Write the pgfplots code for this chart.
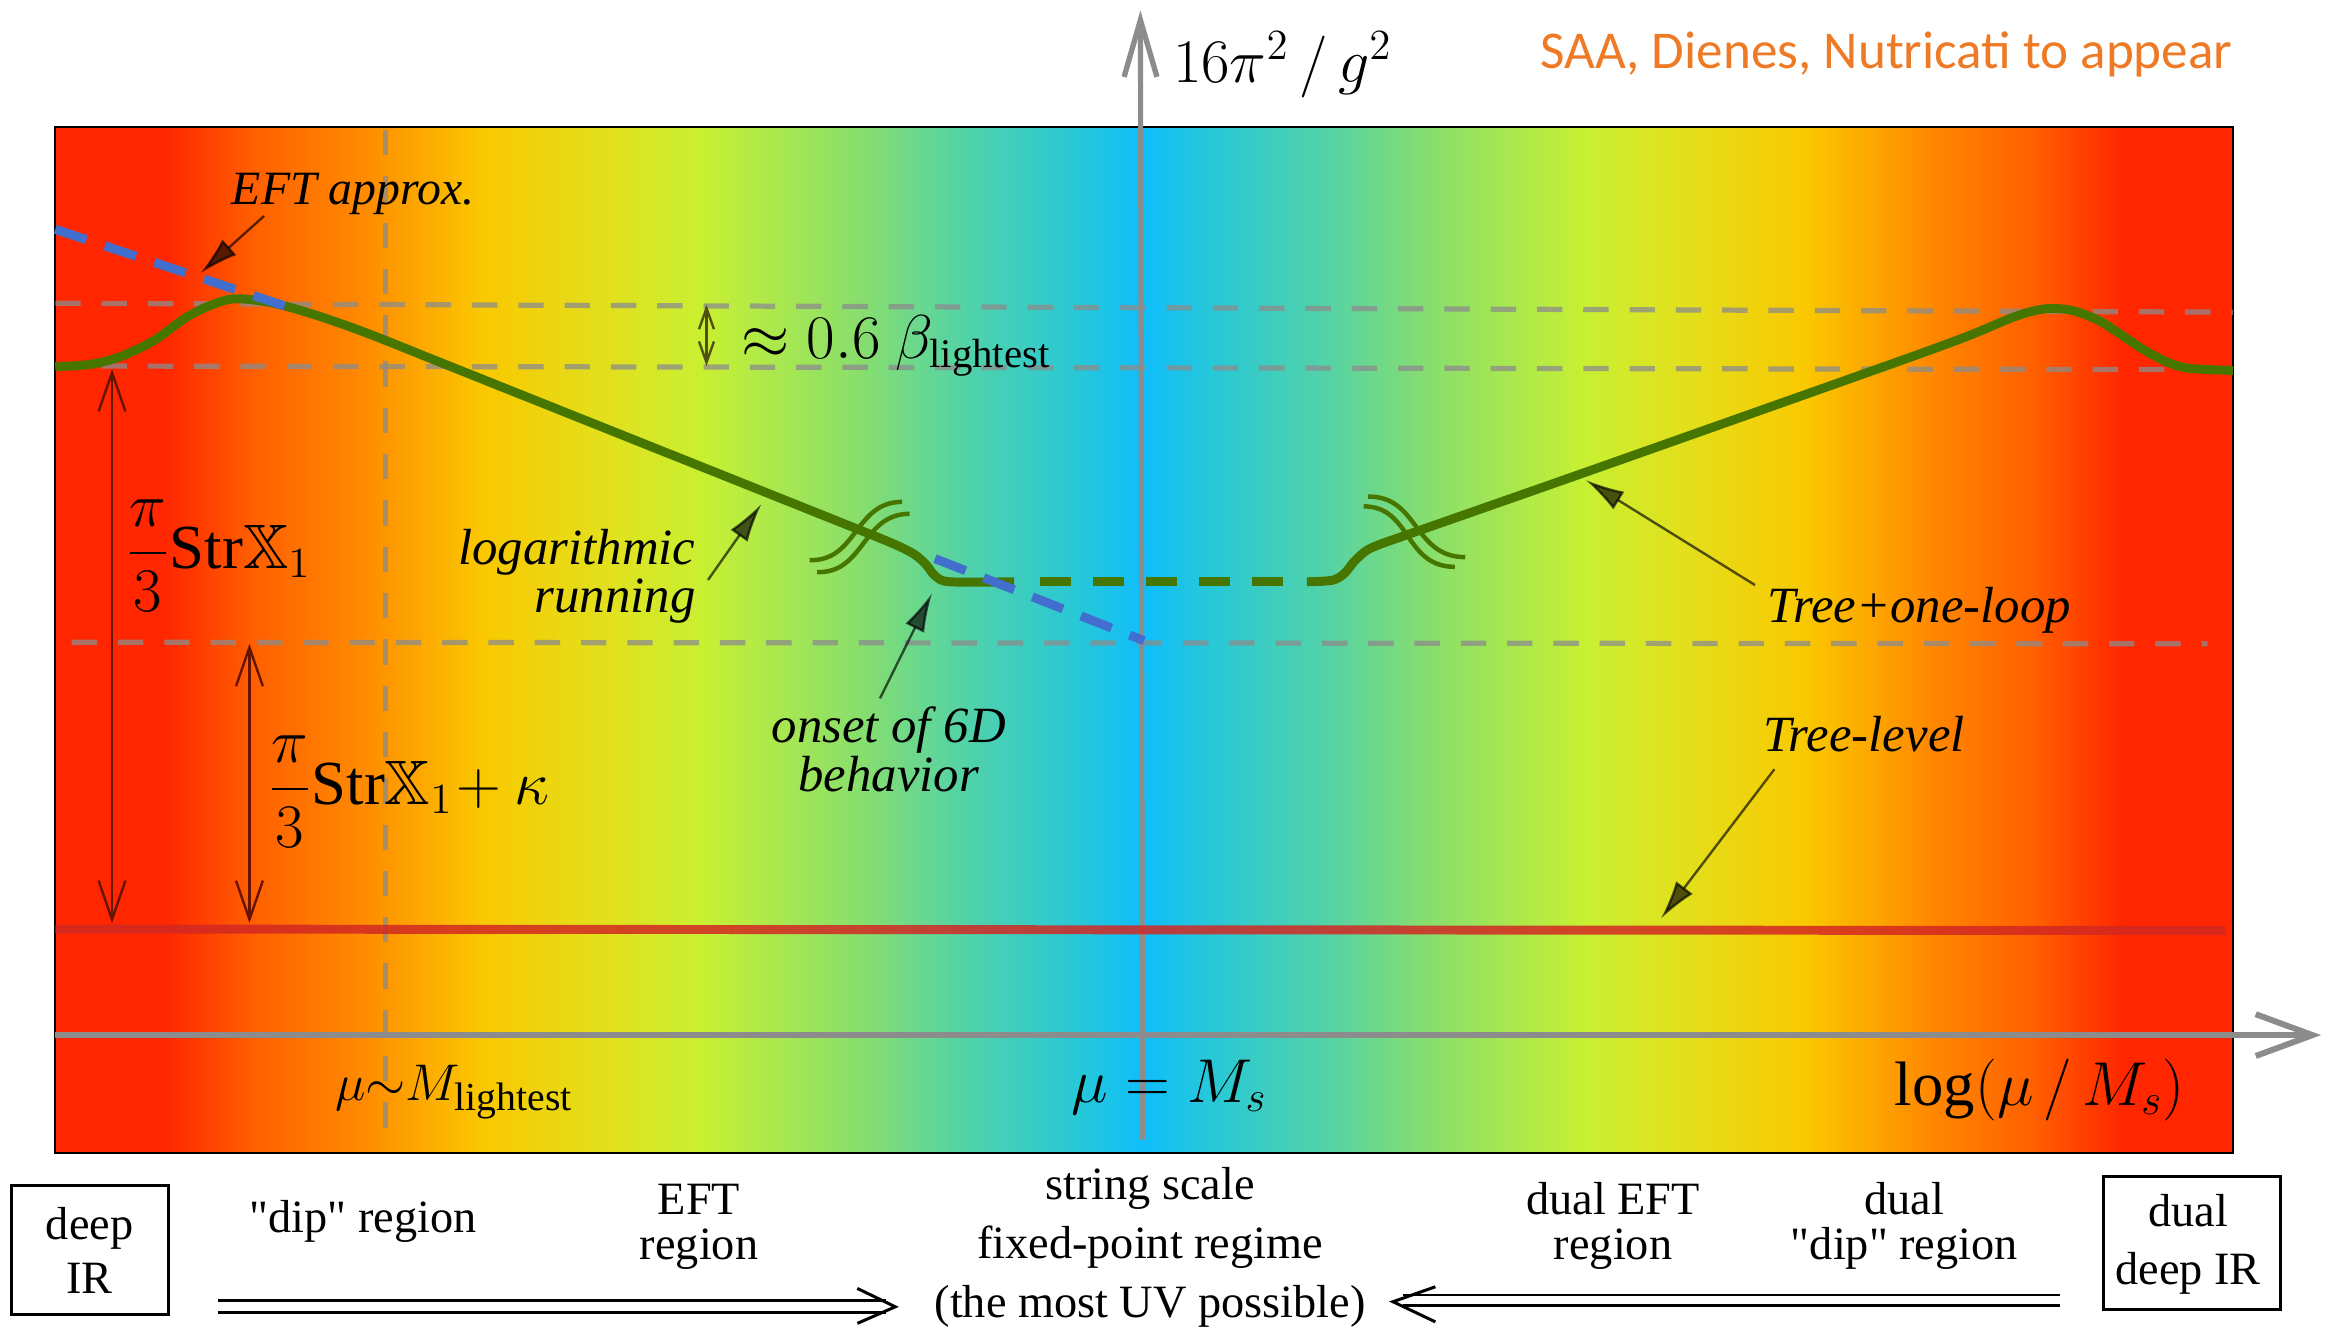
\documentclass[border=0pt]{standalone}
\usepackage{amssymb}
\usepackage{pgfplots}
\pgfplotsset{compat=1.18}
\usepackage{fontspec}
\setmainfont{Liberation Serif}
\newfontfamily\qfont[Ligatures=TeXOff]{Liberation Serif}
\newfontfamily\carlito{Carlito}
\usetikzlibrary{arrows.meta}

\definecolor{cR}{RGB}{255,38,0}
\definecolor{cA}{RGB}{255,95,0}
\definecolor{cB}{RGB}{255,138,0}
\definecolor{cC}{RGB}{250,200,0}
\definecolor{cD}{RGB}{225,225,30}
\definecolor{cE}{RGB}{200,240,50}
\definecolor{cF}{RGB}{135,222,110}
\definecolor{cG}{RGB}{80,210,170}
\definecolor{cH}{RGB}{40,200,215}
\definecolor{cI}{RGB}{15,190,250}
\definecolor{curvegreen}{RGB}{70,118,0}
\definecolor{eftblue}{RGB}{66,110,205}
\definecolor{treered}{RGB}{210,40,35}
\definecolor{axgray}{RGB}{140,140,140}
\definecolor{dashgray}{RGB}{140,140,140}
\definecolor{arrbrown}{RGB}{100,20,0}
\definecolor{arrolive}{RGB}{80,80,20}
\definecolor{refor}{RGB}{238,122,38}

\pgfdeclarehorizontalshading{rainbow}{100bp}{color(0bp)=(cR); color(27.5bp)=(cR); color(29.56bp)=(cA); color(32.03bp)=(cB); color(34.81bp)=(cC); color(37.76bp)=(cD); color(39.88bp)=(cE); color(43.52bp)=(cF); color(45.99bp)=(cG); color(48.42bp)=(cH); color(50bp)=(cI); color(51.58bp)=(cH); color(54.01bp)=(cG); color(56.48bp)=(cF); color(60.12bp)=(cE); color(62.24bp)=(cD); color(65.19bp)=(cC); color(67.97bp)=(cB); color(70.44bp)=(cA); color(72.5bp)=(cR); color(100bp)=(cR)}

\newcommand{\annf}{\fontsize{17}{14.2}\selectfont\itshape}
\newcommand{\btm}{\fontsize{15.5}{15}\selectfont}

\tikzset{
  gdash/.style={color=dashgray, opacity=0.75, line width=1.75pt, dash pattern=on 8.5pt off 7pt},
  annarrow/.style={black, opacity=0.65, line width=0.8pt, -{Latex[length=13pt,width=7pt]}},
  every node/.append style={inner sep=0pt},
}

\begin{document}
\begin{tikzpicture}
\begin{axis}[x=0.5pt, y=0.5pt, xmin=0, xmax=1568, ymin=0, ymax=890,
  y dir=reverse, hide axis, clip=false]
\path (axis cs:0,0) rectangle (axis cs:1568,890);

% background gradient
\addplot[shade, shading=rainbow, draw=black, line width=0.8pt] coordinates {(37,85) (1495,85) (1495,772) (37,772)} -- cycle;

% grey dashed guides
\addplot[no markers, gdash] coordinates {(37,203) (1495,209)};
\addplot[no markers, gdash] coordinates {(37,245) (1495,247.5)};
\addplot[no markers, gdash] coordinates {(48,430) (1478,431)};
\addplot[no markers, gdash] coordinates {(258,87) (258,765)};

% axes
\draw[axgray, line width=1.8pt, -{Straight Barb[length=19pt,width=14pt,line width=2pt]}] (axis cs:37,693) -- (axis cs:1554,693);
\draw[axgray, line width=1.7pt, -{Straight Barb[length=19pt,width=11pt,line width=1.8pt]}] (axis cs:765,763) -- (axis cs:763.5,7);

% tree level
\addplot[no markers, color=treered, opacity=0.85, line width=3pt] coordinates {(37,622) (1490,623)};

% tree + one loop
\addplot[no markers, smooth, tension=0.5, color=curvegreen, line width=3pt] coordinates {
(37,245.5) (60,244) (80,239) (103,228) (128,210.5) (153,200.5) (175,201.5) (195,206) (220,213.8) (250,224.7) (307,247.5) (461,309) (571,353) (598,364) (612,371) (620,378) (626,385.5) (636,389.5) (679,389.5)};
\addplot[no markers, color=curvegreen, line width=3pt, dash pattern=on 10.5pt off 7.25pt] coordinates {(696,389.5) (860,389.5)};
\addplot[no markers, smooth, tension=0.5, color=curvegreen, line width=3pt] coordinates {
(875,389.5) (892,388.5) (900,384) (907,375.5) (915,368.5) (925,364) (945,357) (1062,316) (1226,258) (1290,235.2) (1320,224) (1345,213.5) (1360,208.5) (1373,206.5) (1388,208) (1405,214.5) (1420,224) (1435,234) (1450,242) (1465,246.5) (1495,248)};

% EFT approximations
\addplot[no markers, color=eftblue, line width=3pt, dash pattern=on 11pt off 6.5pt] coordinates {(37,153.5) (200,208)};
\addplot[no markers, color=eftblue, line width=3pt, dash pattern=on 11pt off 6.5pt] coordinates {(626,374) (766,429)};

% break symbols
\draw[curvegreen, line width=1.5pt] (axis cs:542,375) .. controls (axis cs:574,376) and (axis cs:572,336) .. (axis cs:604,336);
\draw[curvegreen, line width=1.5pt] (axis cs:547,383) .. controls (axis cs:579,384) and (axis cs:577,344) .. (axis cs:609,344);
\draw[curvegreen, line width=1.5pt] (axis cs:916,332.5) .. controls (axis cs:950,332) and (axis cs:946,373) .. (axis cs:981,373);
\draw[curvegreen, line width=1.5pt] (axis cs:913,339) .. controls (axis cs:945,339) and (axis cs:940,379.5) .. (axis cs:974,379.5);

% double arrows
\draw[arrbrown, line width=0.8pt, {Straight Barb[length=13pt,width=9pt]}-{Straight Barb[length=13pt,width=9pt]}] (axis cs:75,247) -- (axis cs:75,618);
\draw[arrbrown, line width=0.8pt, {Straight Barb[length=13pt,width=9pt]}-{Straight Barb[length=13pt,width=9pt]}] (axis cs:167,431) -- (axis cs:167,618);
\draw[arrolive, line width=0.8pt, {Straight Barb[length=7pt,width=5pt]}-{Straight Barb[length=7pt,width=5pt]}] (axis cs:473,204) -- (axis cs:473,245);

% annotation arrows
\draw[annarrow] (axis cs:176.8,144.6) -- (axis cs:134.2,182.9);
\draw[annarrow] (axis cs:474,388.3) -- (axis cs:509.8,337.4);
\draw[annarrow] (axis cs:589.2,467.5) -- (axis cs:624,397.2);
\draw[annarrow] (axis cs:1175,391.7) -- (axis cs:1061.7,321.4);
\draw[annarrow] (axis cs:1188,515) -- (axis cs:1112,615);

% labels in the panel
\node[anchor=base] at (axis cs:236.5,137) {\fontsize{16}{16}\selectfont\itshape EFT approx.};
\node[anchor=base east, align=right, font=\annf] at (axis cs:466,410) {logarithmic\\running};
\node[anchor=base, align=center, font=\fontsize{17}{15}\selectfont\itshape] at (axis cs:595,530) {onset of 6D\\behavior};
\node[anchor=base] at (axis cs:1285,417) {\annf Tree+one-loop};
\node[anchor=base] at (axis cs:1248,503) {\annf Tree-level};
\node[anchor=base west] at (axis cs:496,240) {\fontsize{19.5}{19.5}\selectfont $\approx 0.6\ \beta_{\mathrm{lightest}}$};
\node[anchor=west] at (axis cs:84,372) {\fontsize{21}{21}\selectfont $\displaystyle\frac{\pi}{3}\mathrm{Str}\mathbb{X}_1$};
\node[anchor=west] at (axis cs:179,530) {\fontsize{21}{21}\selectfont $\displaystyle\frac{\pi}{3}\mathrm{Str}\mathbb{X}_1\!+\kappa$};
\node[anchor=base west] at (axis cs:224,737) {\fontsize{19}{19}\selectfont $\mu{\sim}M_{\mathrm{lightest}}$};
\node[anchor=base west] at (axis cs:717,738) {\fontsize{21}{21}\selectfont $\mu = M_s$};
\node[anchor=base east] at (axis cs:1463,740) {\fontsize{21}{21}\selectfont $\log(\mu\,/\,M_s)$};

% top labels
\node[anchor=base west] at (axis cs:785,55) {\fontsize{21}{21}\selectfont $16\pi^2\,/\,g^2$};
\node[anchor=base east, text=refor] at (axis cs:1495,46) {\fontsize{17.8}{17.8}\selectfont\carlito SAA, Dienes, Nutricati to appear};

% bottom region labels
\node[draw, line width=1pt, minimum width=52.5pt, minimum height=43pt] at (axis cs:60.2,837) {};
\node[anchor=base, align=center, font=\fontsize{15.5}{18}\selectfont] at (axis cs:60,866) {deep\\IR};
\node[anchor=base] at (axis cs:243,825) {\btm\qfont "dip" region};
\node[anchor=base, align=center, font=\btm] at (axis cs:468,843) {EFT\\region};
\node[anchor=base, align=center, font=\fontsize{15.5}{19.75}\selectfont] at (axis cs:770,882) {string scale\\fixed-point regime\\(the most UV possible)};
\node[anchor=base, align=center, font=\btm] at (axis cs:1080,843) {dual EFT\\region};
\node[anchor=base, align=center, font=\btm\qfont] at (axis cs:1275,843) {dual\\"dip" region};
\node[draw, line width=1pt, minimum width=59pt, minimum height=44.5pt] at (axis cs:1467.6,832) {};
\node[anchor=base, align=center, font=\fontsize{15.5}{19.5}\selectfont] at (axis cs:1465,860) {dual\\deep IR};

% bottom double arrows
\draw[line width=1pt] (axis cs:146,871) -- (axis cs:593,871);
\draw[line width=1pt] (axis cs:146,878.6) -- (axis cs:593,878.6);
\draw[line width=1pt] (axis cs:574,862.6) -- (axis cs:599.4,874.9) -- (axis cs:574,886);
\draw[line width=1pt] (axis cs:939,867) -- (axis cs:1379,867);
\draw[line width=1pt] (axis cs:939,874) -- (axis cs:1379,874);
\draw[line width=1pt] (axis cs:961,861.5) -- (axis cs:932.6,871.5) -- (axis cs:961,885);
\end{axis}
\end{tikzpicture}
\end{document}
